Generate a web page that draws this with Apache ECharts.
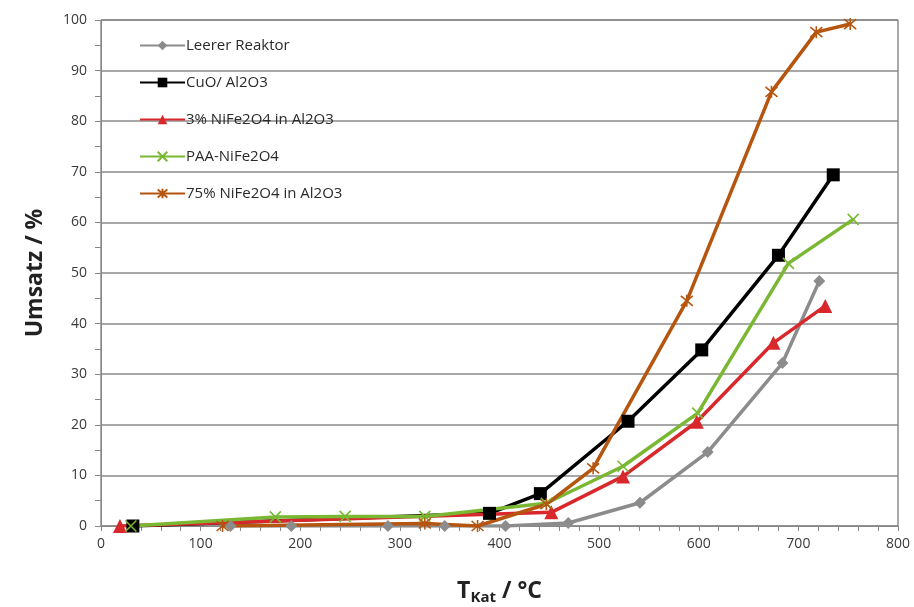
<!DOCTYPE html>
<html>
<head>
<meta charset="utf-8">
<script src="https://cdn.jsdelivr.net/npm/echarts@6/dist/echarts.min.js"></script>
<style>
  html, body { margin: 0; padding: 0; background: #fff; }
  #chart { width: 914px; height: 607px; }
</style>
</head>
<body>
<div id="chart"></div>
<script>
// values: [T_Kat in °C, Umsatz in %]
const leererReaktor = [[130, 0], [191, 0], [288, 0], [345, 0], [406, 0], [469, 0.6], [541, 4.6], [609, 14.6], [684, 32.2], [721, 48.4]];
const cuoAl2o3 = [[32, 0], [390, 2.5], [441, 6.4], [529, 20.7], [603, 34.8], [680, 53.5], [735, 69.4]];
const nife3 = [[19, 0], [452, 2.7], [524, 9.8], [598, 20.6], [675, 36.2], [727, 43.5]];
const paaNife = [[30, 0], [175, 1.8], [245, 1.9], [325, 1.9], [447, 4.5], [524, 11.8], [599, 22.3], [690, 51.9], [755, 60.6]];
const nife75 = [[122, 0], [325, 0.5], [378, 0], [447, 4.3], [494, 11.4], [588, 44.5], [673, 85.8], [718, 97.6], [752, 99.2]];

const seriesNames = ['Leerer Reaktor', 'CuO/ Al2O3', '3% NiFe2O4 in Al2O3', 'PAA-NiFe2O4', '75% NiFe2O4 in Al2O3'];
const yTicks = [0, 10, 20, 30, 40, 50, 60, 70, 80, 90, 100];
const xTicks = [0, 100, 200, 300, 400, 500, 600, 700, 800];

const FONT = '"Open Sans", "Noto Sans", sans-serif';
const crossPath = 'path://M0,0L10,10M10,0L0,10';
const starPath = 'path://M0,0L10,10M10,0L0,10M5,-1L5,11';

function lineSeries(name, data, color, symbol, size, stroked) {
  return {
    type: 'line',
    name: name,
    data: data,
    symbol: symbol,
    symbolSize: size,
    showAllSymbol: true,
    lineStyle: { color: color, width: 3.5 },
    itemStyle: stroked
      ? { color: 'rgba(0,0,0,0)', borderColor: color, borderWidth: 1.6 }
      : { color: color, borderWidth: 0 },
    emphasis: { disabled: true },
    z: 3
  };
}

const chart = echarts.init(document.getElementById('chart'), null, { renderer: 'canvas' });

chart.setOption({
  animation: false,
  backgroundColor: '#fff',
  textStyle: { fontFamily: FONT },
  grid: {
    left: 101, right: 16, top: 20, bottom: 81,
    outerBoundsMode: 'none',
    containLabel: false,
    show: true, borderColor: '#555', borderWidth: 1, backgroundColor: 'transparent'
  },
  legend: {
    orient: 'vertical',
    left: 134, top: 33,
    itemWidth: 45, itemHeight: 12,
    itemGap: 22,
    data: seriesNames,
    textStyle: { fontFamily: FONT, fontSize: 15, color: '#2a2a2a', padding: [0, 0, 0, -4] }
  },
  xAxis: {
    type: 'value',
    min: xTicks[0], max: xTicks[xTicks.length - 1], interval: 100,
    axisLine: { show: true, lineStyle: { color: '#888', width: 1 } },
    axisTick: { show: true, length: 5, lineStyle: { color: '#888' } },
    minorTick: { show: true, splitNumber: 5, length: 5, lineStyle: { color: '#888' } },
    splitLine: { show: false },
    axisLabel: { fontFamily: FONT, fontSize: 14, color: '#3a3a3a', margin: 11 },
    name: '{t|T}{s|Kat}{t| / °C}',
    nameLocation: 'middle',
    nameGap: 52,
    nameTextStyle: {
      rich: {
        t: { fontFamily: FONT, fontSize: 23, fontWeight: 'bold', color: '#222' },
        s: { fontFamily: FONT, fontSize: 15, fontWeight: 'bold', color: '#222', padding: [12, 0, 0, 0] }
      }
    }
  },
  yAxis: {
    type: 'value',
    min: yTicks[0], max: yTicks[yTicks.length - 1], interval: 10,
    axisLine: { show: true, lineStyle: { color: '#888', width: 1 } },
    axisTick: { show: true, length: 6, lineStyle: { color: '#888' } },
    minorTick: { show: true, splitNumber: 2, length: 6, lineStyle: { color: '#888' } },
    splitLine: { show: true, lineStyle: { color: '#8a8a8a', width: 1.5 } },
    axisLabel: { fontFamily: FONT, fontSize: 14, color: '#3a3a3a', margin: 14 },
    name: 'Umsatz / %',
    nameLocation: 'middle',
    nameGap: 54,
    nameTextStyle: { fontFamily: FONT, fontSize: 23, fontWeight: 'bold', color: '#222' }
  },
  series: [
    lineSeries(seriesNames[0], leererReaktor, '#8c8c8c', 'diamond', 12, false),
    lineSeries(seriesNames[1], cuoAl2o3, '#000000', 'rect', 13, false),
    lineSeries(seriesNames[2], nife3, '#d9282c', 'triangle', 14, false),
    lineSeries(seriesNames[3], paaNife, '#7ab833', crossPath, 11, true),
    lineSeries(seriesNames[4], nife75, '#b5550f', starPath, 12, true)
  ]
});
</script>
</body>
</html>
